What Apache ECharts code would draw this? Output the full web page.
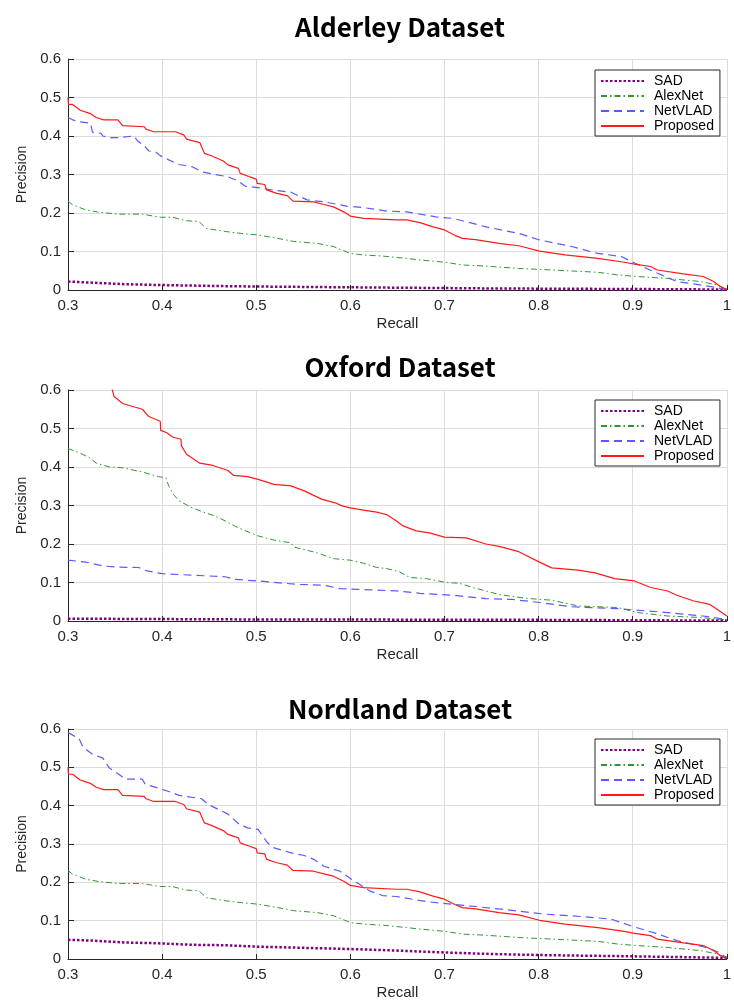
<!DOCTYPE html>
<html>
<head>
<meta charset="utf-8">
<script src="https://cdn.jsdelivr.net/npm/echarts@6/dist/echarts.min.js"></script>
<style>
  html, body { margin: 0; padding: 0; background: #fff; }
  #chart { width: 734px; height: 1001px; }
</style>
</head>
<body>
<div id="chart"></div>
<script>
// dataset titles and legend names
var titles = ["Alderley Dataset", "Oxford Dataset", "Nordland Dataset"];
var methods = ["SAD", "AlexNet", "NetVLAD", "Proposed"];
var xTicks = [0.3, 0.4, 0.5, 0.6, 0.7, 0.8, 0.9, 1];
var yTicks = [0, 0.1, 0.2, 0.3, 0.4, 0.5, 0.6];

// [recall, precision]
var alderleySAD = [[0.3,0.022],[0.326,0.019],[0.361,0.015],[0.396,0.013],[0.467,0.010],[0.502,0.009],[0.6,0.007],[0.75,0.004],[0.95,0.002],[1.0,0.001]];
var alderleyAlexNet = [[0.3,0.231],[0.305,0.221],[0.319,0.208],[0.333,0.202],[0.354,0.197],[0.379,0.197],[0.398,0.189],[0.411,0.189],[0.425,0.180],[0.439,0.178],[0.447,0.160],[0.467,0.152],[0.484,0.147],[0.502,0.143],[0.523,0.134],[0.540,0.126],[0.565,0.121],[0.582,0.113],[0.600,0.095],[0.614,0.091],[0.635,0.088],[0.660,0.082],[0.674,0.078],[0.701,0.072],[0.719,0.065],[0.744,0.062],[0.779,0.056],[0.814,0.052],[0.863,0.046],[0.884,0.039],[0.905,0.035],[0.937,0.030],[0.972,0.022],[0.990,0.013],[1.0,0.003]];
var alderleyNetVLAD = [[0.3,0.448],[0.305,0.442],[0.312,0.437],[0.324,0.433],[0.326,0.410],[0.335,0.407],[0.337,0.400],[0.344,0.396],[0.354,0.396],[0.370,0.400],[0.374,0.387],[0.382,0.372],[0.386,0.361],[0.393,0.359],[0.398,0.349],[0.407,0.338],[0.418,0.326],[0.432,0.320],[0.442,0.307],[0.456,0.300],[0.470,0.294],[0.481,0.283],[0.488,0.270],[0.502,0.266],[0.516,0.260],[0.537,0.254],[0.554,0.234],[0.572,0.229],[0.596,0.218],[0.614,0.214],[0.639,0.205],[0.660,0.203],[0.691,0.190],[0.709,0.186],[0.730,0.173],[0.744,0.164],[0.779,0.147],[0.801,0.130],[0.835,0.113],[0.863,0.095],[0.888,0.087],[0.902,0.070],[0.926,0.044],[0.947,0.022],[0.975,0.012],[0.990,0.006],[1.0,0]];
var alderleyProposed = [[0.3,0.5],[0.3005,0.482],[0.305,0.482],[0.313,0.467],[0.319,0.462],[0.324,0.458],[0.330,0.448],[0.338,0.442],[0.353,0.442],[0.358,0.427],[0.381,0.424],[0.383,0.418],[0.391,0.411],[0.397,0.411],[0.398,0.406],[0.414,0.411],[0.423,0.403],[0.426,0.392],[0.440,0.383],[0.445,0.355],[0.453,0.348],[0.465,0.335],[0.470,0.325],[0.481,0.316],[0.483,0.303],[0.493,0.294],[0.500,0.288],[0.501,0.277],[0.509,0.274],[0.511,0.260],[0.522,0.251],[0.533,0.245],[0.539,0.231],[0.561,0.229],[0.572,0.222],[0.582,0.216],[0.593,0.203],[0.600,0.192],[0.614,0.186],[0.649,0.182],[0.660,0.182],[0.674,0.175],[0.688,0.164],[0.700,0.156],[0.711,0.142],[0.719,0.134],[0.733,0.131],[0.758,0.121],[0.779,0.115],[0.801,0.101],[0.828,0.091],[0.863,0.082],[0.891,0.072],[0.902,0.067],[0.919,0.061],[0.926,0.052],[0.954,0.042],[0.975,0.035],[0.986,0.022],[0.993,0.009],[1.0,0]];

var oxfordSAD = [[0.3,0.006],[0.4,0.005],[0.5,0.004],[0.6,0.004],[0.7,0.003],[0.8,0.003],[0.9,0.002],[1.0,0.001]];
var oxfordAlexNet = [[0.3,0.448],[0.312,0.437],[0.323,0.424],[0.330,0.410],[0.344,0.400],[0.358,0.398],[0.379,0.387],[0.396,0.375],[0.404,0.372],[0.407,0.351],[0.412,0.329],[0.418,0.312],[0.432,0.294],[0.446,0.281],[0.456,0.273],[0.467,0.260],[0.481,0.242],[0.502,0.221],[0.519,0.210],[0.537,0.203],[0.540,0.192],[0.565,0.177],[0.582,0.162],[0.600,0.158],[0.614,0.150],[0.628,0.139],[0.639,0.136],[0.652,0.128],[0.663,0.113],[0.681,0.110],[0.702,0.100],[0.716,0.098],[0.730,0.087],[0.758,0.069],[0.786,0.059],[0.814,0.054],[0.842,0.039],[0.884,0.035],[0.905,0.022],[0.937,0.013],[0.972,0.009],[1.0,0.003]];
var oxfordNetVLAD = [[0.3,0.158],[0.319,0.153],[0.337,0.143],[0.351,0.140],[0.375,0.139],[0.384,0.130],[0.400,0.123],[0.432,0.119],[0.467,0.115],[0.477,0.108],[0.502,0.104],[0.544,0.095],[0.572,0.093],[0.589,0.084],[0.621,0.081],[0.649,0.078],[0.674,0.072],[0.709,0.067],[0.744,0.058],[0.772,0.056],[0.801,0.048],[0.835,0.037],[0.884,0.032],[0.937,0.022],[0.975,0.013],[1.0,0.004]];
var oxfordProposed = [[0.345,0.62],[0.347,0.601],[0.349,0.583],[0.358,0.565],[0.379,0.550],[0.386,0.531],[0.398,0.519],[0.3985,0.495],[0.405,0.489],[0.411,0.478],[0.420,0.472],[0.4205,0.455],[0.426,0.433],[0.440,0.410],[0.454,0.404],[0.470,0.391],[0.476,0.378],[0.491,0.375],[0.502,0.368],[0.519,0.355],[0.537,0.351],[0.551,0.338],[0.570,0.316],[0.584,0.307],[0.591,0.299],[0.600,0.294],[0.614,0.288],[0.628,0.283],[0.639,0.276],[0.649,0.260],[0.656,0.247],[0.670,0.234],[0.684,0.229],[0.700,0.218],[0.723,0.216],[0.744,0.200],[0.758,0.194],[0.779,0.180],[0.801,0.153],[0.814,0.138],[0.842,0.132],[0.860,0.125],[0.881,0.110],[0.902,0.104],[0.919,0.087],[0.937,0.078],[0.947,0.067],[0.965,0.052],[0.982,0.043],[0.990,0.030],[1.0,0.013]];

var nordlandSAD = [[0.3,0.050],[0.326,0.048],[0.361,0.043],[0.396,0.041],[0.432,0.037],[0.467,0.036],[0.502,0.032],[0.537,0.030],[0.6,0.026],[0.649,0.022],[0.7,0.017],[0.75,0.013],[0.807,0.010],[0.9,0.007],[1.0,0.003]];
// AlexNet and Proposed curves look identical to Alderley in the figure
var nordlandAlexNet = alderleyAlexNet;
var nordlandNetVLAD = [[0.3,0.591],[0.305,0.584],[0.312,0.574],[0.316,0.552],[0.326,0.534],[0.337,0.524],[0.344,0.498],[0.354,0.482],[0.361,0.469],[0.379,0.469],[0.382,0.456],[0.396,0.446],[0.407,0.437],[0.418,0.427],[0.442,0.418],[0.449,0.403],[0.460,0.390],[0.470,0.378],[0.482,0.351],[0.491,0.342],[0.502,0.338],[0.512,0.303],[0.519,0.290],[0.537,0.277],[0.551,0.270],[0.561,0.260],[0.572,0.242],[0.589,0.229],[0.600,0.210],[0.607,0.199],[0.621,0.177],[0.635,0.165],[0.649,0.163],[0.68,0.150],[0.72,0.140],[0.76,0.130],[0.807,0.117],[0.85,0.110],[0.877,0.104],[0.90,0.085],[0.923,0.068],[0.947,0.048],[0.975,0.032],[0.99,0.019],[1.0,0.003]];
var nordlandProposed = alderleyProposed;

var datasets = [
  [alderleySAD, alderleyAlexNet, alderleyNetVLAD, alderleyProposed],
  [oxfordSAD, oxfordAlexNet, oxfordNetVLAD, oxfordProposed],
  [nordlandSAD, nordlandAlexNet, nordlandNetVLAD, nordlandProposed]
];

var gridTops = [59, 390, 729];
var titleTops = [14, 354, 696];
var legendTops = [70, 400, 739];

var lineStyles = [
  { color: "#800080", width: 2.5, type: [2.5, 2] },
  { color: "#2f962f", width: 1, type: [6, 3, 1.5, 3] },
  { color: "#5a5aff", width: 1.2, type: [8, 5] },
  { color: "#ff1a1a", width: 1.2, type: "solid" }
];

var option = {
  animation: false,
  title: [],
  legend: [],
  grid: [],
  xAxis: [],
  yAxis: [],
  series: []
};

for (var i = 0; i < 3; i++) {
  option.title.push({
    text: titles[i],
    left: 400,
    top: titleTops[i],
    textAlign: "center",
    padding: 0,
    textStyle: { fontFamily: "Noto Sans CJK KR", fontWeight: "bold", fontSize: 26, color: "#000" }
  });
  option.grid.push({ left: 68, width: 665, top: gridTops[i], height: 231 });
  option.xAxis.push({
    type: "value", gridIndex: i, min: 0.3, max: 1, interval: 0.1,
    name: "Recall", nameLocation: "middle", nameGap: 26,
    nameTextStyle: { fontFamily: "Liberation Sans", fontSize: 15, color: "#262626" },
    axisLine: { onZero: false, lineStyle: { color: "#262626", width: 1 } },
    axisTick: { inside: true, length: 5, lineStyle: { color: "#262626" } },
    axisLabel: { margin: 8, fontFamily: "Liberation Sans", fontSize: 15, color: "#262626", alignMaxLabel: "center" },
    splitLine: { show: true, lineStyle: { color: "#dcdcdc", width: 1 } }
  });
  option.yAxis.push({
    type: "value", gridIndex: i, min: 0, max: 0.6, interval: 0.1,
    name: "Precision", nameLocation: "middle", nameGap: 36, nameRotate: 90,
    nameTextStyle: { fontFamily: "Liberation Sans", fontSize: 14, color: "#262626" },
    axisLine: { show: true, onZero: false, lineStyle: { color: "#262626", width: 1 } },
    axisTick: { show: true, inside: true, length: 6, lineStyle: { color: "#262626" } },
    axisLabel: { margin: 7, fontFamily: "Liberation Sans", fontSize: 15, color: "#262626" },
    splitLine: { show: true, lineStyle: { color: "#dcdcdc", width: 1 } }
  });
  var names = [];
  for (var k = 0; k < methods.length; k++) {
    var sname = methods[k] + " " + i;
    names.push({ name: sname });
    option.series.push({
      name: sname,
      type: "line",
      xAxisIndex: i,
      yAxisIndex: i,
      symbol: "none",
      clip: true,
      lineStyle: lineStyles[k],
      itemStyle: { color: lineStyles[k].color },
      data: datasets[i][k]
    });
  }
  option.legend.push({
    data: names,
    orient: "vertical",
    left: 595,
    top: legendTops[i],
    itemWidth: 43,
    itemHeight: 14,
    itemGap: 1,
    padding: [4, 6, 3, 5],
    borderColor: "#262626",
    borderWidth: 1,
    backgroundColor: "#fff",
    selectedMode: false,
    itemStyle: { color: "rgba(0,0,0,0)", borderColor: "rgba(0,0,0,0)", borderWidth: 0, opacity: 0 },
    formatter: function (n) { return n.split(" ")[0]; },
    textStyle: { fontFamily: "Liberation Sans", fontSize: 14, color: "#000", padding: [0, 0, 0, 5] }
  });
}

var myChart = echarts.init(document.getElementById("chart"));
myChart.setOption(option);
</script>
</body>
</html>
